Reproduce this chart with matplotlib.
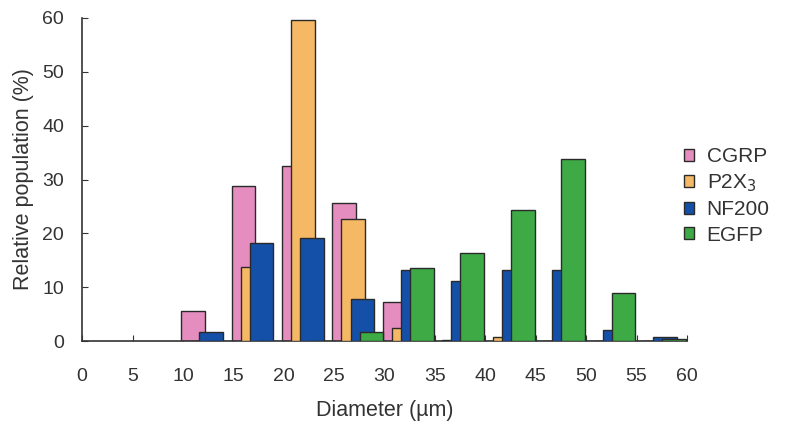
import numpy as np
import matplotlib.pyplot as plt

plt.rcParams['font.family'] = ['Liberation Sans', 'DejaVu Sans']

# bin starts (um)
bins = [10, 15, 20, 25, 30, 35, 40, 45, 50, 55]
cgrp = [5.6, 28.8, 32.5, 25.7, 7.2, 0, 0, 0, 0, 0]
p2x3 = [0, 13.7, 59.7, 22.6, 2.4, 0.3, 0.7, 0, 0, 0]
nf200 = [1.7, 18.3, 19.2, 7.8, 13.2, 11.2, 13.2, 13.2, 2.0, 0.7]
egfp = [0, 0, 0, 1.7, 13.6, 16.4, 24.3, 33.8, 8.9, 0.4]

names = ['CGRP', 'P2X$_3$', 'NF200', 'EGFP']
colors = ['#E58DBE', '#F5B865', '#1550A8', '#3DAA46']
series = [cgrp, p2x3, nf200, egfp]

fig = plt.figure(figsize=(7.97, 4.28), dpi=100)
ax = fig.add_axes([0.103, 0.203, 0.759, 0.755])

x = np.array(bins, dtype=float)
w = 2.35
for i, (vals, c, n) in enumerate(zip(series, colors, names)):
    ax.bar(x + 1.0 + i * 0.9, vals, width=w, color=c, edgecolor='#2a2a2a',
           linewidth=1.0, label=n, zorder=2 + i)

ax.set_xlim(0, 60)
ax.set_ylim(0, 60)
ax.set_xticks(np.arange(0, 61, 5))
ax.set_yticks(np.arange(0, 61, 10))
ax.tick_params(direction='in', labelsize=14, color='#333333', length=4)
ax.tick_params(axis='x', pad=19)
ax.tick_params(axis='y', pad=13)
for s in ['top', 'right']:
    ax.spines[s].set_visible(False)
for s in ['left', 'bottom']:
    ax.spines[s].set_color('#333333')
    ax.spines[s].set_linewidth(1.2)

ax.set_xlabel('Diameter (\u00b5m)', fontsize=15.5, color='#333333', labelpad=11)
ax.set_ylabel('Relative population (%)', fontsize=15.5, color='#333333', labelpad=6)
for lab in ax.get_xticklabels() + ax.get_yticklabels():
    lab.set_color('#333333')

leg = ax.legend(loc='center left', bbox_to_anchor=(0.858, 0.542),
                bbox_transform=fig.transFigure, frameon=False,
                fontsize=15, handlelength=0.5, handleheight=0.5, handletextpad=0.6,
                labelspacing=0.3, borderaxespad=0, borderpad=0)
for t in leg.get_texts():
    t.set_color('#333333')

fig.savefig('out.png', dpi=100)
